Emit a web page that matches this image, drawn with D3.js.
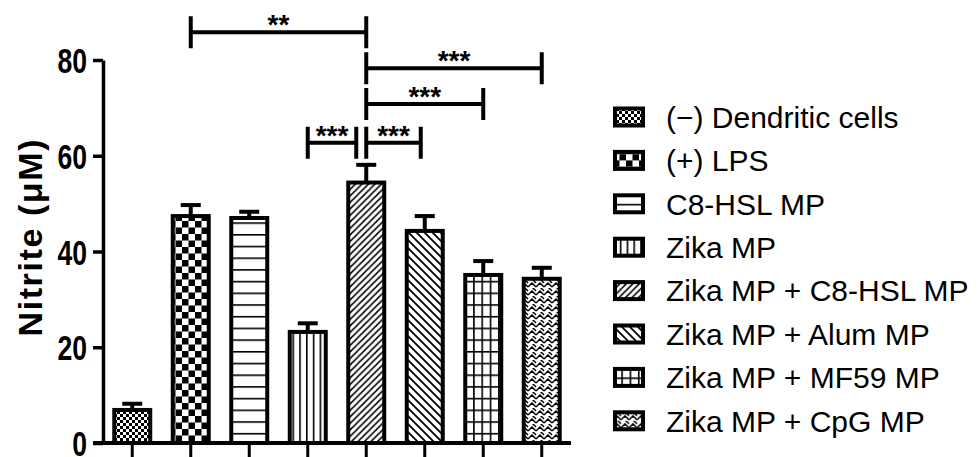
<!DOCTYPE html>
<html>
<head>
<meta charset="utf-8">
<script src="https://cdn.jsdelivr.net/npm/d3@7"></script>
<style>
  body { margin: 0; background: #fff; }
  svg { display: block; }
</style>
</head>
<body>
<div id="chart"></div>
<script>
// data
const groups = ["(\u2212) Dendritic cells", "(+) LPS", "C8-HSL MP", "Zika MP",
  "Zika MP + C8-HSL MP", "Zika MP + Alum MP", "Zika MP + MF59 MP", "Zika MP + CpG MP"];
const means = [6.9, 47.4, 47.0, 23.2, 54.4, 44.3, 35.1, 34.3];
const sems = [1.3, 2.3, 1.3, 1.8, 3.7, 3.1, 2.9, 2.3];
const yTicks = [0, 20, 40, 60, 80];
const sig = [
  { from: 1, to: 4, label: "**", level: 85.8 },
  { from: 4, to: 7, label: "***", level: 78.3 },
  { from: 4, to: 6, label: "***", level: 70.8 },
  { from: 3, to: 4, label: "***", level: 62.7, shiftEnd: -10 },
  { from: 4, to: 5, label: "***", level: 62.7, shiftEnd: -4 }
];

var W = 978, H = 457;
var mLeft = 103, mTop = 60, mBottom = 443, xEnd = 571;

var svg = d3.select("#chart").append("svg")
  .attr("width", W).attr("height", H);

var defs = svg.append("defs");

function pat(id, w, h, draw) {
  var p = defs.append("pattern").attr("id", id)
    .attr("patternUnits", "userSpaceOnUse")
    .attr("width", w).attr("height", h);
  p.append("rect").attr("width", w).attr("height", h).attr("fill", "#fff");
  draw(p);
}
// fine checker
pat("p0", 6, 6, p => {
  p.append("rect").attr("width", 3).attr("height", 3);
  p.append("rect").attr("x", 3).attr("y", 3).attr("width", 3).attr("height", 3);
});
// big checker
pat("p1", 13, 13, p => {
  p.append("rect").attr("width", 6.5).attr("height", 6.5);
  p.append("rect").attr("x", 6.5).attr("y", 6.5).attr("width", 6.5).attr("height", 6.5);
});
// horizontal lines
pat("p2", 10, 11.7, p => {
  p.append("rect").attr("y", 0).attr("width", 10).attr("height", 1.6);
});
// vertical lines
pat("p3", 6.8, 10, p => {
  p.append("rect").attr("x", 0).attr("width", 1.6).attr("height", 10);
});
// forward diagonal
pat("p4", 6.5, 6.5, p => {
  p.append("path").attr("d", "M-1,1 l2,-2 M0,6.5 l6.5,-6.5 M5.5,7.5 l2,-2")
    .attr("stroke", "#000").attr("stroke-width", 1.5);
});
// back diagonal
pat("p5", 8, 8, p => {
  p.append("path").attr("d", "M-1,7 l2,2 M0,0 l8,8 M7,-1 l2,2")
    .attr("stroke", "#000").attr("stroke-width", 1.8);
});
// grid
pat("p6", 8.3, 11.7, p => {
  p.append("rect").attr("width", 1.6).attr("height", 11.7);
  p.append("rect").attr("width", 8.3).attr("height", 1.6);
});
// zigzag
pat("p7", 8, 8, p => {
  p.append("path").attr("d", "M0,7 L4,3 L8,7 M0,3 L-4,-1 M8,3 L4,-1")
    .attr("fill", "none").attr("stroke", "#000").attr("stroke-width", 1.5);
});

var x = d3.scaleBand().domain(d3.range(groups.length))
  .range([mLeft, xEnd]).paddingInner(0.385).paddingOuter(0.1925);
var y = d3.scaleLinear().domain([0, 80]).range([mBottom, mTop]);

// bars
svg.append("g").selectAll("rect").data(means).join("rect")
  .attr("x", (d, i) => x(i))
  .attr("y", d => y(d))
  .attr("width", x.bandwidth())
  .attr("height", d => y(0) - y(d))
  .attr("fill", (d, i) => "url(#p" + i + ")")
  .attr("stroke", "#000").attr("stroke-width", 4);

// error bars (upper only)
var eb = svg.append("g").attr("stroke", "#000").attr("stroke-width", 4);
means.forEach((m, i) => {
  var cx = x(i) + x.bandwidth() / 2;
  eb.append("line").attr("x1", cx).attr("x2", cx).attr("y1", y(m)).attr("y2", y(m + sems[i]));
  eb.append("line").attr("x1", cx - 10).attr("x2", cx + 10)
    .attr("y1", y(m + sems[i])).attr("y2", y(m + sems[i]));
});

// y axis
var sx = 0.76;
var yAxis = svg.append("g").attr("transform", "translate(" + mLeft + ",0)")
  .call(d3.axisLeft(y).tickValues(yTicks).tickSize(10).tickSizeOuter(0).tickPadding(6));
yAxis.select(".domain").attr("stroke-width", 3.5);
yAxis.selectAll(".tick line").attr("stroke-width", 3.5);
// condensed bold labels (no narrow font installed, so squeeze horizontally)
yAxis.selectAll(".tick text")
  .attr("font-family", "'Liberation Sans', Arial, sans-serif")
  .attr("font-weight", "bold").attr("font-size", 35).attr("fill", "#000")
  .attr("x", -16 / sx)
  .attr("transform", "scale(" + sx + ",1)")
  .attr("dy", "0.36em");

// x axis
var xAxis = svg.append("g").attr("transform", "translate(0," + mBottom + ")")
  .call(d3.axisBottom(x).tickSize(14).tickSizeOuter(0).tickFormat(""));
xAxis.select(".domain").attr("stroke-width", 4).attr("d", "M" + (mLeft - 10) + ",0H" + xEnd);
xAxis.selectAll(".tick line").attr("stroke-width", 3);

// y title
svg.append("text")
  .attr("transform", "translate(42,238) rotate(-90)")
  .attr("text-anchor", "middle")
  .attr("font-family", "'Liberation Sans', Arial, sans-serif")
  .attr("font-weight", "bold").attr("font-size", 34)
  .attr("textLength", 197).attr("lengthAdjust", "spacing")
  .text("Nitrite (\u03bcM)");

// significance brackets
var sg = svg.append("g");
sig.forEach(s => {
  var x1 = x(s.from) + x.bandwidth() / 2;
  var x2 = x(s.to) + x.bandwidth() / 2 + (s.shiftEnd || 0);
  var yy = y(s.level);
  sg.append("path")
    .attr("d", "M" + x1 + "," + (yy - 16) + "V" + (yy + 16) + "M" + x1 + "," + yy + "H" + x2 +
      "M" + x2 + "," + (yy - 16) + "V" + (yy + 16))
    .attr("fill", "none").attr("stroke", "#000").attr("stroke-width", 4);
  sg.append("text")
    .attr("x", (x1 + x2) / 2).attr("y", yy + 2)
    .attr("text-anchor", "middle")
    .attr("font-family", "'Liberation Sans', Arial, sans-serif")
    .attr("font-weight", "bold")
    .attr("font-size", 28)
    .text(s.label);
});

// legend
var lg = svg.append("g").selectAll("g").data(groups).join("g")
  .attr("transform", (d, i) => "translate(613," + (117 + i * 43.4) + ")");
lg.append("rect")
  .attr("x", 2).attr("y", -8.5).attr("width", 28).attr("height", 17)
  .attr("fill", (d, i) => "url(#p" + i + ")")
  .attr("stroke", "#000").attr("stroke-width", 4);
lg.append("text")
  .attr("x", 53).attr("dy", "0.36em")
  .attr("font-family", "'Liberation Sans', Arial, sans-serif")
  .attr("font-size", 30)
  .text(d => d);
</script>
</body>
</html>
